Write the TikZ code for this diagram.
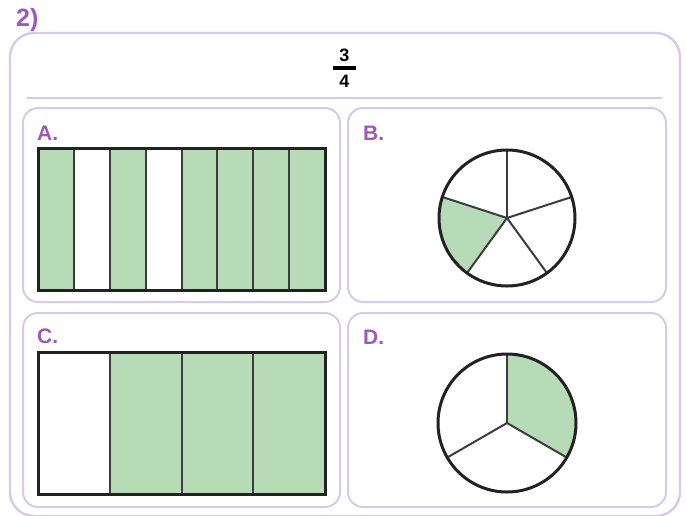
\documentclass[tikz,border=0pt]{standalone}
\usepackage{fontspec}
\setmainfont{Liberation Sans}
\definecolor{lilac}{HTML}{D6CAE8}
\definecolor{plum}{HTML}{9D58B9}
\definecolor{leaf}{HTML}{B7DAB7}
\definecolor{ink}{HTML}{222222}
\definecolor{spoke}{HTML}{3C3C3C}
\tikzset{
  frame/.style={draw=lilac, line width=2.4pt, rounded corners=24pt},
  panel/.style={draw=lilac, line width=2pt, rounded corners=15pt},
  lbl/.style={text=plum, font=\bfseries\fontsize{21}{24}\selectfont, inner sep=0pt, anchor=base west},
  digit/.style={text=black, font=\bfseries\fontsize{18}{20}\selectfont, inner sep=0pt, anchor=base},
  border/.style={draw=ink, line width=3pt},
  divider/.style={draw=spoke, line width=2pt},
  greenfill/.style={fill=leaf},
}
\begin{document}
\begin{tikzpicture}[x=1pt,y=-1pt]
\useasboundingbox (0,0) rectangle (686,515);
% title
\node[lbl, font=\bfseries\fontsize{25}{28}\selectfont] (title) at (16,26) {2)};
% outer frame
\draw[frame] (10,33) rectangle (680,516);
% fraction
\node[digit] (num) at (344.5,61) {3};
\node[digit] (den) at (344.5,87) {4};
\draw[line width=3.5pt] (333,68) -- (356,68);
% separator
\draw[draw=lilac, line width=2pt] (27,97.5) -- (662,97.5);
% panels
\draw[panel] (23,108) rectangle (340,302);
\draw[panel] (348,108) rectangle (666,302);
\draw[panel] (23,313) rectangle (340,507);
\draw[panel] (348,313) rectangle (666,507);
% labels
\node[lbl] (la) at (37,140) {A.};
\node[lbl] (lb) at (363,140) {B.};
\node[lbl] (lc) at (37,343) {C.};
\node[lbl] (ld) at (363,344) {D.};
% A: eight strips
\foreach \i in {0,2,4,5,6,7}{
  \fill[greenfill] (38+\i*35.875,148) rectangle (38+\i*35.875+35.875,290);
}
\foreach \i in {1,...,7}{
  \draw[divider] (38+\i*35.875,148) -- (38+\i*35.875,290);
}
\draw[border] (38,148) rectangle (325,290);
% C: four strips
\fill[greenfill] (109.75,352) rectangle (325,494);
\foreach \i in {1,2,3}{
  \draw[divider] (38+\i*71.75,352) -- (38+\i*71.75,494);
}
\draw[border] (38,352) rectangle (325,494);
% B: circle in fifths
\coordinate (cb) at (507,218);
\fill[greenfill] (cb) -- ++(-162:68) arc (-162:-234:68) -- cycle;
\foreach \a in {-90,-18,54,126,-162}{
  \draw[divider] (cb) -- ++(\a:68);
}
\draw[border] (cb) circle (68);
% D: circle in thirds
\coordinate (cd) at (507,423);
\fill[greenfill] (cd) -- ++(30:69) arc (30:-90:69) -- cycle;
\foreach \a in {-90,30,150}{
  \draw[divider] (cd) -- ++(\a:69);
}
\draw[border] (cd) circle (69);
\end{tikzpicture}
\end{document}
